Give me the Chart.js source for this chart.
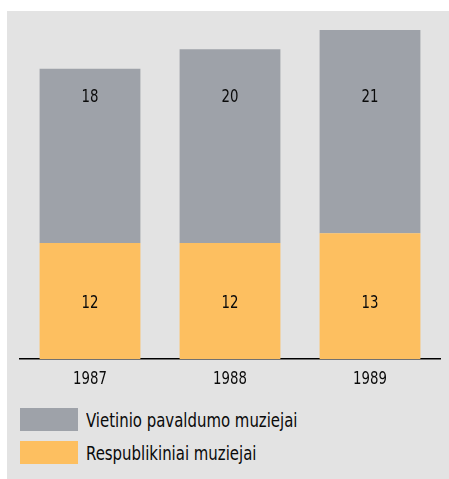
<!DOCTYPE html>
<html>
<head>
<meta charset="utf-8">
<script src="https://cdn.jsdelivr.net/npm/chart.js@4"></script>
<style>
  body { margin: 0; background: #fff; font-family: "Liberation Sans Narrow", "DejaVu Sans Condensed", sans-serif; }
  #panel { position: absolute; left: 7px; top: 11px; width: 442px; height: 468px; background: #e3e3e3; }
  #chart { position: absolute; left: 0; top: 0; }
  #legend { position: absolute; left: 13px; top: 397px; }
  .item { display: flex; align-items: center; height: 23px; margin-bottom: 10px; font-size: 20px; color: #0a0a0a; white-space: nowrap; }
  .box { width: 58px; height: 23px; margin-right: 8px; flex: none; }
  .item span { display: inline-block; transform: scaleX(0.83); transform-origin: left center; }
</style>
</head>
<body>
<div id="panel">
  <canvas id="chart" width="442" height="390"></canvas>
  <div id="legend"></div>
</div>
<script>
// duomenys
const years = ['1987', '1988', '1989'];
const respublikiniai = [12, 12, 13];
const vietiniai = [18, 20, 21];
const seriesNames = ['Vietinio pavaldumo muziejai', 'Respublikiniai muziejai'];
const colGray = '#9ea2a9';
const colOrange = '#fdbf60';
const fontFam = '"Liberation Sans Narrow", "DejaVu Sans Condensed", sans-serif';

document.addEventListener('DOMContentLoaded', function () {

    // siauresnis tekstas (kaip originale)
    function narrowText(c, txt, x, y) {
        c.save();
        c.translate(x, y);
        c.scale(0.82, 1);
        c.fillText(txt, 0, 0);
        c.restore();
    }

    // skaiciai ant stulpeliu + metai po asimi
    const valueLabels = {
        id: 'valueLabels',
        afterDraw(chart) {
            const c = chart.ctx;
            const xScale = chart.scales.x;
            const yScale = chart.scales.y;
            c.save();
            c.font = '18px ' + fontFam;
            c.fillStyle = '#0a0a0a';
            c.textAlign = 'center';
            c.textBaseline = 'middle';
            chart.data.datasets.forEach((ds, i) => {
                chart.getDatasetMeta(i).data.forEach((bar, j) => {
                    narrowText(c, String(ds.data[j]), bar.x, yScale.getPixelForValue(ds.labelAt));
                });
            });
            chart.data.labels.forEach((lab, j) => {
                narrowText(c, lab, xScale.getPixelForTick(j), xScale.top + 20);
            });
            c.restore();
        }
    };

    new Chart(document.getElementById('chart'), {
        type: 'bar',
        data: {
            labels: years,
            datasets: [
                { label: seriesNames[1], data: respublikiniai, backgroundColor: colOrange, labelAt: 5.8 },
                { label: seriesNames[0], data: vietiniai, backgroundColor: colGray, labelAt: 27 }
            ]
        },
        options: {
            responsive: false,
            animation: false,
            layout: { padding: { top: 19, left: 13, right: 9, bottom: 0 } },
            datasets: { bar: { categoryPercentage: 1, barPercentage: 0.72 } },
            scales: {
                x: {
                    stacked: true,
                    grid: { display: false, drawTicks: false },
                    border: { color: '#000', width: 1.5 },
                    ticks: { display: false },
                    afterFit: s => { s.height = 42; }
                },
                y: { stacked: true, display: false, min: 0, max: 34 }
            },
            plugins: { legend: { display: false }, tooltip: { enabled: false } }
        },
        plugins: [valueLabels]
    });

    // legenda
    const legend = document.getElementById('legend');
    [[seriesNames[0], colGray], [seriesNames[1], colOrange]].forEach(([name, col]) => {
        const row = document.createElement('div');
        row.className = 'item';
        row.innerHTML = '<div class="box" style="background:' + col + '"></div><span>' + name + '</span>';
        legend.appendChild(row);
    });
});
</script>
</body>
</html>
